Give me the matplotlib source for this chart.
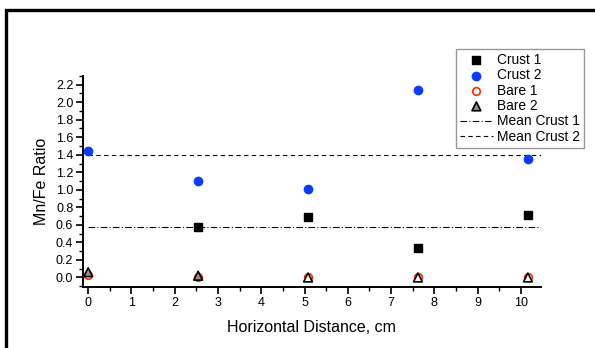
import numpy as np
import matplotlib.pyplot as plt
from matplotlib.patches import Rectangle
from matplotlib.ticker import MultipleLocator

plt.rcParams['font.family'] = ['Liberation Sans', 'DejaVu Sans']

# distances (cm)
dist = [0, 2.54, 5.08, 7.62, 10.16]
crust1_x = [2.54, 5.08, 7.62, 10.16]
crust1 = [0.57, 0.69, 0.34, 0.71]
crust2 = [1.44, 1.10, 1.01, 2.14, 1.35]
bare1 = [0.03, 0.0, 0.0, 0.0, 0.0]
bare2 = [0.06, 0.02, 0.0, 0.0, 0.0]
mean_crust1 = 0.58
mean_crust2 = 1.40

fig = plt.figure(figsize=[5.95, 3.48], dpi=100)
ax = fig.add_axes([0.1395, 0.175, 0.7695, 0.607])

ax.scatter(crust1_x, crust1, marker='s', s=30, color='black', label='Crust 1', zorder=3)
ax.scatter(dist, crust2, marker='o', s=36, color='#0a3cff', label='Crust 2', zorder=3)
ax.scatter(dist, bare1, marker='o', s=30, facecolor='white', edgecolor='#ff2a00', lw=1.2, label='Bare 1', zorder=3)
tri_fc = ['#909090', '#909090', 'white', 'white', 'white']
ax.scatter(dist, bare2, marker='^', s=40, facecolor=tri_fc, edgecolor='black', lw=1.2, label='Bare 2', zorder=4)
ax.hlines(mean_crust1, 0, 10.46, color='black', lw=0.8, ls=(0, (6, 2, 1, 2)), label='Mean Crust 1')
ax.hlines(mean_crust2, 0, 10.46, color='black', lw=0.8, ls=(0, (4, 3)), label='Mean Crust 2')

ax.set_xlim(-0.12, 10.46)
ax.set_ylim(-0.11, 2.3)
ax.xaxis.set_major_locator(MultipleLocator(1))
ax.xaxis.set_minor_locator(MultipleLocator(0.5))
ax.yaxis.set_major_locator(MultipleLocator(0.2))
ax.yaxis.set_minor_locator(MultipleLocator(0.1))
ax.tick_params(which='major', direction='out', length=5, width=1.2, labelsize=9, pad=2)
ax.tick_params(which='minor', direction='out', length=3, width=1.0)
for s in ['top', 'right']:
    ax.spines[s].set_visible(False)
for s in ['left', 'bottom']:
    ax.spines[s].set_linewidth(1.4)

ax.set_xlabel('Horizontal Distance, cm', fontsize=11.5, labelpad=8)
ax.set_ylabel('Mn/Fe Ratio', fontsize=11.5, labelpad=5)

# legend box
h, l = ax.get_legend_handles_labels()
leg = fig.legend(h, l, loc='upper left', bbox_to_anchor=(0.766, 0.860), fontsize=9.9,
                 frameon=True, fancybox=False, edgecolor='#808080', handlelength=2.4,
                 handletextpad=0.3, labelspacing=0.1, borderpad=0.3, borderaxespad=0,
                 scatterpoints=1)
leg.get_frame().set_linewidth(1.0)

# outer frame
fig.patches.append(Rectangle((6 / 595, -0.1), 1.2, 1 - 10 / 348 + 0.1, transform=fig.transFigure,
                             fill=False, edgecolor='black', lw=2.4))

fig.savefig('out.png', dpi=100)
